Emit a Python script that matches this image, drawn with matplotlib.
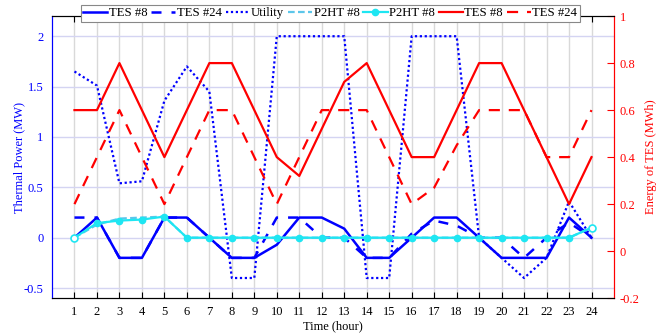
import matplotlib
matplotlib.use('Agg')
import matplotlib.pyplot as plt
import matplotlib.ticker as mticker
import numpy as np

plt.rcParams['font.family'] = ['Liberation Serif', 'DejaVu Serif']
plt.rcParams['mathtext.fontset'] = 'stix'

# Data
hours = np.arange(1, 25)
tes8_power = [0, 0.2, -0.2, -0.2, 0.2, 0.2, 0, -0.2, -0.2, -0.07, 0.2, 0.2,
              0.09, -0.2, -0.2, 0, 0.2, 0.2, 0, -0.2, -0.2, -0.2, 0.2, 0]
tes24_power = [0.2, 0.2, -0.2, -0.2, 0.2, 0.2, 0, -0.2, -0.2, 0.2, 0.2, 0,
               0, -0.2, -0.2, 0.04, 0.17, 0.12, 0, 0, -0.2, 0, 0.15, 0]
utility = [1.65, 1.51, 0.54, 0.56, 1.36, 1.70, 1.45, -0.4, -0.4, 2, 2, 2,
           2, -0.4, -0.4, 2, 2, 2, 0, -0.2, -0.4, -0.2, 0.36, 0]
p2ht_dash = [0, 0.13, 0.19, 0.2, 0.21] + [0] * 18 + [0.1]
p2ht_mark = [0, 0.145, 0.17, 0.18, 0.21] + [0] * 18 + [0.1]
tes8_energy = [0.6, 0.6, 0.8, 0.6, 0.4, 0.6, 0.8, 0.8, 0.6, 0.4, 0.32, 0.52,
               0.72, 0.8, 0.6, 0.4, 0.4, 0.6, 0.8, 0.8, 0.6, 0.4, 0.2, 0.4]
tes24_energy = [0.2, 0.4, 0.6, 0.4, 0.2, 0.4, 0.6, 0.6, 0.4, 0.2, 0.4, 0.6,
                0.6, 0.6, 0.4, 0.2, 0.27, 0.45, 0.6, 0.6, 0.6, 0.4, 0.4, 0.6]

BLUE = '#0000ff'
RED = '#ff0000'
CYAN = '#1ee6f2'
LIGHT = '#5cc6ea'

fig = plt.figure(figsize=(6.7, 3.35), dpi=100)
ax = fig.add_axes([0.0776, 0.110, 0.8388, 0.842])
ax2 = ax.twinx()

# Grid: horizontal lavender, vertical grey
ax.set_axisbelow(True)
ax.yaxis.grid(True, color='#d4d4f2', lw=1.0)
ax.xaxis.grid(True, color='#d9d9d9', lw=1.0)

h1, = ax.plot(hours, tes8_power, color=BLUE, lw=1.8, label='TES #8')
h2, = ax.plot(hours, tes24_power, color=BLUE, lw=1.8, ls=(0, (4, 4)), label='TES #24')
h3, = ax.plot(hours, utility, color=BLUE, lw=1.6, ls=(0, (1, 1.2)), label='Utility')
h4, = ax.plot(hours, p2ht_dash, color=LIGHT, lw=1.6, ls=(0, (3, 1.5)), label='P2HT #8')
h5, = ax.plot(hours, p2ht_mark, color=CYAN, lw=1.6, marker='o', ms=4.5,
              markevery=list(range(1, 23)), label='P2HT #8')
ax.plot(hours[[0, -1]], np.array(p2ht_mark)[[0, -1]], ls='none', marker='o', ms=5,
        mfc='white', mec=CYAN, mew=1.2)

h6, = ax2.plot(hours, tes8_energy, color=RED, lw=1.6, label='TES #8')
h7, = ax2.plot(hours, tes24_energy, color=RED, lw=1.6, ls=(0, (5, 4)), label='TES #24')

ax.set_xlim(0, 25)
ax.set_ylim(-0.6, 2.2)
ax2.set_ylim(-0.2, 1.0)
ax.set_xticks(hours)
ax.set_yticks([-0.5, 0, 0.5, 1, 1.5, 2])
ax2.set_yticks([-0.2, 0, 0.2, 0.4, 0.6, 0.8, 1.0])
fmt = mticker.FuncFormatter(lambda v, p: '%g' % v)
ax.yaxis.set_major_formatter(fmt)
ax2.yaxis.set_major_formatter(fmt)

ax.tick_params(axis='x', direction='in', top=True, length=4, labelsize=9, pad=6)
ax.tick_params(axis='y', direction='in', length=0, colors=BLUE, labelsize=9, pad=6)
ax2.tick_params(axis='y', direction='in', length=5, colors=RED, labelsize=9, pad=4)

ax2.spines['left'].set_color(BLUE)
ax2.spines['right'].set_color(RED)
ax.spines['left'].set_color(BLUE)
ax.spines['right'].set_color(RED)

ax.set_xlabel('Time (hour)', fontsize=9, labelpad=1)
ax.set_ylabel('Thermal Power (MW)', fontsize=9, color=BLUE, labelpad=-1)
ax2.set_ylabel('Energy of TES (MWh)', fontsize=9, color=RED, labelpad=4)

leg = ax2.legend(handles=[h1, h2, h3, h4, h5, h6, h7], loc='upper center',
                 bbox_to_anchor=(0.495, 1.04), ncol=7, fontsize=9.2,
                 frameon=True, fancybox=False, edgecolor='#888888', framealpha=1,
                 handlelength=1.9, handletextpad=0.1, columnspacing=0.3,
                 borderpad=0.2, borderaxespad=0)
leg.get_frame().set_linewidth(0.8)

fig.savefig('out.png', dpi=100)
